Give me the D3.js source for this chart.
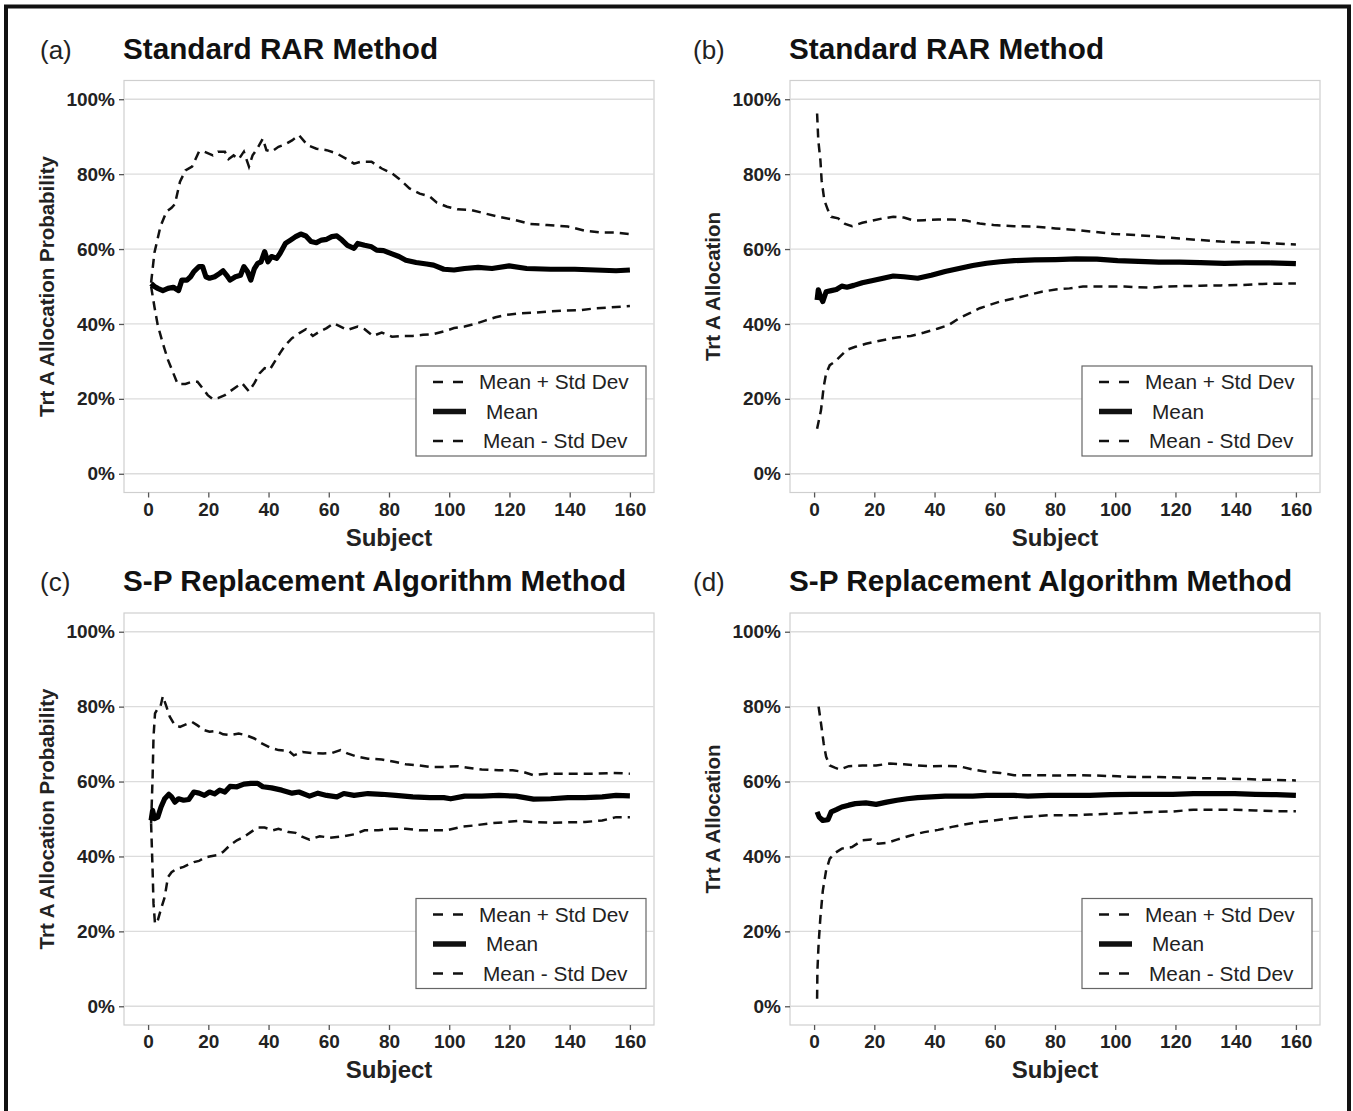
<!DOCTYPE html>
<html><head><meta charset="utf-8">
<script src="https://cdn.jsdelivr.net/npm/d3@7"></script>
<style>
body{margin:0;background:#fff;}
text{font-family:"Liberation Sans",Arial,Helvetica,sans-serif;}
</style>
</head><body>
<svg id="chart" width="1353" height="1111"></svg>
<script>
// ---------- data ----------
const xTicks = [0, 20, 40, 60, 80, 100, 120, 140, 160];
const yTicks = [0, 20, 40, 60, 80, 100];
const panelLetters = ["(a)", "(b)", "(c)", "(d)"];
const panelTitles = ["Standard RAR Method", "Standard RAR Method", "S-P Replacement Algorithm Method", "S-P Replacement Algorithm Method"];
const yTitles = ["Trt A Allocation Probability", "Trt A Allocation", "Trt A Allocation Probability", "Trt A Allocation"];
const xTitle = "Subject";
const legendLabels = ["Mean + Std Dev", "Mean", "Mean - Std Dev"];

// [subject, percent]
const aUpper = [[1,51],[2.1,59],[4.1,66],[6.1,70],[7.8,71],[8.9,72],[10.6,78],[12.4,81],[14.6,82],[16.9,86],[18.7,86],[21.5,85],[23.2,86],[25.5,86],[26.7,84],[28.4,85],[30.1,84],[31.8,86],[33.5,82],[34.7,85],[36.4,87],[38.1,89.5],[39.3,86.4],[41,86],[43.3,87.3],[45.6,88],[47.8,89],[50.1,90.4],[53,87.7],[55.9,86.8],[59.3,86.4],[62.7,85.5],[66.2,83.9],[68.4,82.8],[70.7,83.3],[74.2,83.3],[77.6,81.5],[81,80.2],[83.3,78.8],[86.8,76.2],[90.2,74.8],[93.6,74],[95.9,72.4],[99.3,71.3],[102.8,70.6],[107.4,70.4],[111.9,69.5],[116.5,68.6],[121.1,67.9],[126.8,66.7],[132.5,66.4],[139.4,66],[145.1,64.9],[150.8,64.4],[155.4,64.4],[160,64]];
const aMean = [[1,50.8],[2.1,50],[3.2,49.5],[4.9,48.9],[6.6,49.5],[8.4,49.8],[10.1,48.9],[11.2,51.7],[12.9,51.7],[14.1,52.6],[15.2,54],[16.9,55.3],[18.1,55.3],[19.2,52.6],[20.4,52.2],[22.1,52.6],[23.8,53.5],[24.9,54.2],[26.1,53],[27.2,51.7],[29,52.6],[30.7,53],[31.8,55.3],[33,54],[34.1,51.7],[35.3,54.8],[36.4,56.2],[37.5,56.6],[38.7,59.3],[39.8,56.6],[41,58],[42.7,57.5],[43.8,58.8],[45.6,61.5],[47.3,62.4],[49,63.3],[50.7,64],[52.4,63.5],[54.1,62],[55.9,61.7],[57.6,62.4],[59.3,62.6],[61,63.3],[62.7,63.5],[64.4,62.4],[66.2,61],[68.4,60.2],[69.6,61.5],[71.9,61],[74.2,60.6],[75.9,59.7],[78.2,59.6],[81,58.7],[83.3,58],[85.6,57],[89,56.4],[92.5,56],[94.8,55.7],[98.2,54.6],[101.6,54.4],[105.1,54.8],[109.6,55.1],[114.2,54.8],[119.9,55.5],[125.7,54.8],[133.7,54.6],[141.7,54.6],[148.6,54.4],[155.4,54.2],[160,54.4]];
const aLower = [[1,50],[2.1,44.6],[3.2,39.7],[4.9,34.8],[6.6,30.4],[8.4,26.8],[9.8,24],[12.4,24],[14.6,24.6],[16.4,24.6],[18.1,22.8],[19.8,21],[21.5,19.9],[23.2,20.2],[25.5,21],[27.2,22],[29.5,23.3],[31.2,24.2],[33.5,22],[35.3,24.2],[37,26.8],[38.7,28.2],[40.4,27.8],[42.1,30],[43.8,32.2],[45.6,34.4],[47.8,36.2],[50.1,37.5],[52.4,38.6],[54.7,36.8],[57,38],[59.3,38.9],[61.6,40.2],[63.9,39.3],[66.2,38.4],[69.6,39.3],[71.9,38.6],[74.7,36.8],[77.6,37.7],[81,36.6],[84.5,36.8],[87.9,36.8],[91.3,37.1],[94.8,37.3],[98.2,38],[101.6,38.9],[105.1,39.3],[108.5,40],[111.9,40.9],[115.4,41.8],[118.8,42.4],[123.4,42.8],[128,43],[132.5,43.3],[138.3,43.6],[144,43.7],[148.6,44.2],[153.1,44.4],[160,44.8]];

const bUpper = [[1,96.2],[1.4,89],[2.1,83.7],[2.5,78.4],[3.4,73],[4.6,70.4],[5.7,68.6],[8,68.2],[10.3,66.7],[12.6,66.1],[16,67],[19.5,67.6],[22.9,68.2],[26.3,68.6],[29.8,68.4],[33.2,67.6],[36.6,67.7],[41.2,67.9],[45.8,67.9],[50.4,67.6],[55,66.8],[59.6,66.4],[66.4,66.1],[73.3,66],[80.2,65.5],[87,65.1],[92.8,64.6],[99.6,64],[107.7,63.7],[114.5,63.3],[121.4,62.8],[128.3,62.4],[135.1,62],[142,61.8],[148.9,61.7],[156.9,61.3],[160,61.2]];
const bMean = [[1,46.4],[1.4,49.1],[2.1,47.3],[2.9,46],[4,48.6],[5.7,48.9],[7.4,49.2],[9.2,50.1],[10.9,49.8],[13.2,50.3],[16,51],[19.5,51.6],[22.9,52.2],[26.3,52.8],[29.8,52.6],[34.4,52.2],[38.9,53],[43.5,54],[48.1,54.8],[52.7,55.6],[57.3,56.2],[61.8,56.6],[66.4,56.9],[73.3,57.1],[80.2,57.2],[87,57.4],[93.9,57.3],[100.8,56.9],[107.7,56.7],[114.5,56.5],[121.4,56.5],[128.3,56.4],[136.3,56.2],[143.2,56.3],[151.2,56.3],[160,56.1]];
const bLower = [[1,12],[2.3,17],[3.2,23.3],[4,26.8],[5.2,29],[6.9,29.9],[8.6,31.3],[10.9,33.1],[13.7,33.9],[17.2,34.7],[20.6,35.3],[24.1,35.9],[27.5,36.4],[32.1,36.8],[36.6,37.7],[41.2,38.8],[44.7,39.7],[48.1,41.5],[51.5,42.8],[55,44.2],[58.4,45.1],[61.8,46],[66.4,46.8],[71,47.7],[75.6,48.6],[80.2,49.2],[84.8,49.5],[89.3,50],[93.9,50],[98.5,50],[103.1,50],[107.7,49.8],[112.2,49.7],[116.8,50],[121.4,50.1],[128.3,50.2],[135.1,50.3],[142,50.4],[148.9,50.7],[160,50.8]];

const cUpper = [[1,48.8],[1.5,61.2],[1.8,71.9],[2.3,78.2],[3.2,79.5],[4.1,80],[4.9,82.8],[6.1,80],[7.2,77.3],[8.9,75],[10.6,74.6],[12.9,75.4],[14.6,75.9],[16.4,75],[18.7,73.7],[20.4,73.3],[22.7,73.5],[24.9,72.6],[27.2,72.4],[30.1,72.8],[32.4,72.4],[35.3,71.5],[37.5,70.3],[40.4,69.1],[43.3,68.4],[46.7,68.2],[48.4,67],[51.3,67.9],[54.7,67.6],[58.1,67.5],[61,67.6],[63.9,68.4],[66.2,67.5],[69.6,66.6],[73,66.1],[77.6,65.9],[82.2,65.2],[85.6,64.6],[90.2,64.3],[93.6,63.9],[98.2,63.9],[102.8,64.1],[106.2,63.7],[110.8,63.2],[116.5,63],[121.1,63],[124.5,62.6],[128,61.7],[132.5,62.1],[137.1,62.1],[142.8,62.1],[148.6,62.1],[154.3,62.3],[160,62.1]];
const cMean = [[1,49.6],[1.5,52.3],[2.1,50.1],[3.2,50.5],[4.3,53.2],[5.5,55.4],[6.9,56.6],[7.8,55.9],[8.9,54.5],[10.1,55.4],[11.8,55],[13.5,55.2],[15.2,57.2],[16.9,56.9],[18.7,56.3],[20.4,57.2],[22.1,56.7],[23.8,57.7],[25.5,57.2],[27.2,58.7],[29.5,58.6],[31.8,59.3],[34.1,59.5],[36.4,59.5],[38.1,58.6],[41,58.3],[44.4,57.7],[47.8,56.9],[50.1,57.2],[53.6,56.1],[56.4,56.9],[59.3,56.3],[62.7,55.9],[65,56.8],[68.4,56.3],[73,56.8],[77.6,56.6],[82.2,56.3],[87.9,55.9],[93.6,55.7],[98.2,55.7],[100.5,55.4],[105.1,56.1],[110.8,56.1],[116.5,56.3],[122.2,56.1],[128,55.3],[133.7,55.4],[139.4,55.7],[145.1,55.7],[150.8,55.9],[155.4,56.3],[160,56.2]];
const cLower = [[1,48.8],[1.5,36.3],[1.8,27.4],[2.3,22],[3.2,22.9],[4.3,26],[5.5,29.1],[6.6,34.5],[7.8,35.8],[9.5,36.7],[11.8,37.2],[13.5,37.9],[15.2,38.5],[16.9,38.8],[18.7,39.7],[20.4,40],[22.7,40.3],[24.9,41.2],[27.2,43],[29.5,44.3],[31.8,45.2],[34.1,46.5],[36.4,47.7],[38.7,47.7],[41.5,47],[43.3,47.4],[46.7,46.5],[49,46.3],[51.3,45.2],[53.6,44.5],[57,45.4],[60.4,45],[65,45.4],[68.4,45.9],[71.9,47],[76.5,47],[81,47.4],[85.6,47.4],[90.2,47],[94.8,47],[99.3,47],[103.9,47.9],[108.5,48.3],[113.1,48.8],[117.7,49.1],[123.4,49.5],[128,49.2],[133.7,49],[139.4,49.1],[145.1,49.2],[150.8,49.6],[155.4,50.5],[160,50.5]];

const dUpper = [[1.5,80],[2.3,75.5],[3.2,70.1],[4,66.6],[5.2,64.3],[6.9,63.7],[8.6,63.2],[11.5,64.1],[16,64.3],[20.6,64.3],[25.2,64.8],[29.8,64.6],[34.4,64.3],[38.9,64.1],[43.5,64.2],[48.1,64.1],[52.7,63.2],[57.3,62.6],[61.8,62.3],[66.4,61.7],[71,61.7],[75.6,61.7],[80.2,61.6],[87,61.7],[93.9,61.6],[100.8,61.4],[107.7,61.2],[114.5,61.2],[121.4,61.1],[128.3,60.9],[135.1,60.8],[142,60.7],[148.9,60.5],[160,60.3]];
const dMean = [[1,51.9],[1.7,50.5],[2.9,49.6],[4.6,49.8],[5.7,51.9],[7.4,52.5],[9.2,53.2],[11.5,53.7],[13.7,54.1],[17.2,54.3],[20.6,53.9],[24.1,54.5],[27.5,55],[30.9,55.4],[34.4,55.7],[38.9,55.9],[43.5,56.1],[48.1,56.1],[52.7,56.1],[57.3,56.3],[61.8,56.3],[66.4,56.3],[71,56.1],[77.9,56.3],[84.8,56.3],[91.6,56.3],[98.5,56.5],[105.4,56.6],[112.2,56.6],[119.1,56.6],[126,56.8],[132.9,56.8],[139.7,56.8],[146.6,56.6],[153.5,56.5],[160,56.3]];
const dLower = [[1,2],[1.1,9.5],[1.5,16.7],[2.1,23.8],[2.9,30.9],[4,36.3],[5.2,39.4],[6.9,40.9],[9.2,42.1],[12.6,42.5],[16,44.3],[18.9,44.5],[21.2,43.4],[24.1,43.6],[27.5,44.5],[32.1,45.6],[36.6,46.5],[41.2,47.1],[45.8,47.9],[50.4,48.6],[55,49.2],[59.6,49.6],[64.1,50.1],[68.7,50.5],[73.3,50.7],[77.9,51],[82.5,51],[87,51],[91.6,51.2],[98.5,51.4],[105.4,51.6],[112.2,51.9],[119.1,52],[126,52.5],[132.9,52.5],[139.7,52.5],[146.6,52.3],[153.5,52.1],[160,52.1]];

// ---------- layout ----------
const svg = d3.select("#chart");
svg.append("rect").attr("width",1353).attr("height",1111).attr("fill","#fff");
// outer black frame (left, top, right)
svg.append("path")
  .attr("d","M6,1120 L6,6.5 L1349,6.5 L1349,1120")
  .attr("fill","none").attr("stroke","#111").attr("stroke-width",4);

const W = 530, H = 412;
const panels = [
  {x0:124, y0:80.5, lx:40,  up:aUpper, mean:aMean, lo:aLower},
  {x0:790, y0:80.5, lx:693, up:bUpper, mean:bMean, lo:bLower},
  {x0:124, y0:613,  lx:40,  up:cUpper, mean:cMean, lo:cLower},
  {x0:790, y0:613,  lx:693, up:dUpper, mean:dMean, lo:dLower}
];

panels.forEach((p, i) => {
  const x = d3.scaleLinear().domain([-8, 168]).range([p.x0, p.x0 + W]);
  const y = d3.scaleLinear().domain([-5, 105]).range([p.y0 + H, p.y0]);
  const g = svg.append("g");

  // panel box
  g.append("rect").attr("x", p.x0).attr("y", p.y0).attr("width", W).attr("height", H)
    .attr("fill", "#fff").attr("stroke", "#cfcfcf").attr("stroke-width", 1.2);

  // horizontal grid
  g.selectAll(".grid").data(yTicks).join("line")
    .attr("x1", p.x0).attr("x2", p.x0 + W)
    .attr("y1", d => y(d)).attr("y2", d => y(d))
    .attr("stroke", "#dcdcdc").attr("stroke-width", 1.3);

  // axes
  const yAxis = d3.axisLeft(y).tickValues(yTicks).tickFormat(d => d + "%").tickSize(5).tickPadding(4);
  const ya = g.append("g").attr("transform", `translate(${p.x0},0)`).call(yAxis);
  const xAxis = d3.axisBottom(x).tickValues(xTicks).tickSize(5).tickPadding(5);
  const xa = g.append("g").attr("transform", `translate(0,${p.y0 + H})`).call(xAxis);
  [ya, xa].forEach(a => {
    a.select(".domain").remove();
    a.selectAll(".tick line").attr("stroke", "#555").attr("stroke-width", 1.3);
    a.selectAll(".tick text").attr("fill", "#222").attr("font-size", 19).attr("font-weight", "bold")
      .attr("font-family", "'Liberation Sans', Arial, sans-serif");
  });

  // axis titles
  g.append("text").attr("x", p.x0 + W / 2).attr("y", p.y0 + H + 53)
    .attr("text-anchor", "middle").attr("font-size", 24).attr("font-weight", "bold").attr("fill", "#222")
    .text(xTitle);
  g.append("text")
    .attr("transform", `translate(${p.x0 - 70},${p.y0 + H / 2}) rotate(-90)`)
    .attr("text-anchor", "middle").attr("font-size", 20.5).attr("font-weight", "bold").attr("fill", "#222")
    .text(yTitles[i]);

  // panel letter + title
  g.append("text").attr("x", p.lx).attr("y", p.y0 - 22)
    .attr("font-size", 26).attr("fill", "#222").text(panelLetters[i]);
  g.append("text").attr("x", p.x0 - 1).attr("y", p.y0 - 22)
    .attr("font-size", 29.7).attr("font-weight", "bold").attr("fill", "#111").text(panelTitles[i]);

  // lines
  const line = d3.line().x(d => x(d[0])).y(d => y(d[1]));
  g.append("path").datum(p.up).attr("d", line).attr("fill", "none")
    .attr("stroke", "#111").attr("stroke-width", 2.5).attr("stroke-dasharray", "9,6");
  g.append("path").datum(p.lo).attr("d", line).attr("fill", "none")
    .attr("stroke", "#111").attr("stroke-width", 2.5).attr("stroke-dasharray", "9,6");
  g.append("path").datum(p.mean).attr("d", line).attr("fill", "none")
    .attr("stroke", "#000").attr("stroke-width", 5.2).attr("stroke-linejoin", "round");

  // legend
  const lx = p.x0 + 292, ly = p.y0 + 285.5;
  const lg = g.append("g");
  lg.append("rect").attr("x", lx).attr("y", ly).attr("width", 230).attr("height", 90)
    .attr("fill", "#fff").attr("stroke", "#666").attr("stroke-width", 1.2);
  const rows = [
    {lab: legendLabels[0], dash: "10,10", w: 2.5, tx: 63},
    {lab: legendLabels[1], dash: null, w: 5.5, tx: 70},
    {lab: legendLabels[2], dash: "10,10", w: 2.5, tx: 67}
  ];
  rows.forEach((r, k) => {
    const cy = ly + 16 + k * 29.5;
    const ln = lg.append("line").attr("x1", lx + 17).attr("x2", lx + 50)
      .attr("y1", cy).attr("y2", cy).attr("stroke", "#111").attr("stroke-width", r.w);
    if (r.dash) ln.attr("stroke-dasharray", r.dash);
    lg.append("text").attr("x", lx + r.tx).attr("y", cy).attr("dy", "0.35em")
      .attr("font-size", 20.8).attr("fill", "#222").text(r.lab);
  });
});
</script>
</body></html>
